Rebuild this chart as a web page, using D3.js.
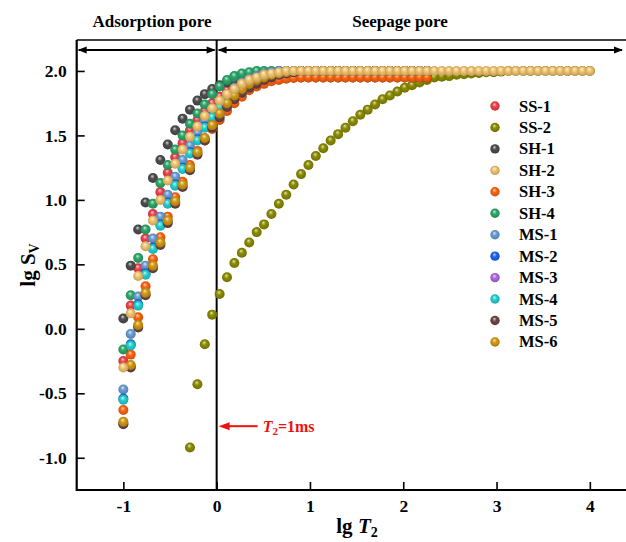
<!DOCTYPE html>
<html>
<head>
<meta charset="utf-8">
<script src="https://cdn.jsdelivr.net/npm/d3@7/dist/d3.min.js"></script>
<style>
  body { margin: 0; background: #fff; }
  svg { display: block; font-family: "Liberation Serif", "Times New Roman", serif; font-weight: bold; }
</style>
</head>
<body>
<script>
// DATA: lg T2 grid (0.1 ms .. 10000 ms, 64 points) and lg Sv per sample
const LG_T2 = [-1.000, -0.921, -0.841, -0.762, -0.683, -0.603, -0.524, -0.444, -0.365, -0.286,
               -0.206, -0.127, -0.048, 0.032, 0.111, 0.190, 0.270, 0.349, 0.429, 0.508,
               0.587, 0.667, 0.746, 0.825, 0.905, 0.984, 1.063, 1.143, 1.222, 1.302,
               1.381, 1.460, 1.540, 1.619, 1.698, 1.778, 1.857, 1.937, 2.016, 2.095,
               2.175, 2.254, 2.333, 2.413, 2.492, 2.571, 2.651, 2.730, 2.810, 2.889,
               2.968, 3.048, 3.127, 3.206, 3.286, 3.365, 3.444, 3.524, 3.603, 3.683,
               3.762, 3.841, 3.921, 4.000];

const SS_1 = [-0.25, 0.18, 0.47, 0.70, 0.89, 1.06, 1.21, 1.33, 1.44, 1.54, 1.62, 1.69, 1.75, 1.80, 1.85, 1.89,
              1.92, 1.95, 1.97, 1.98, 1.99, 2.00, 2.00, 2.00, 2.00, 2.00, 2.00, 2.00, 2.00, 2.00, 2.00, 2.00,
              2.00, 2.00, 2.00, 2.00, 2.00, 2.00, 2.00, 2.00, 2.00, 2.00];
const SS_2 = [null, null, null, null, null, null, null, null, null, -0.92, -0.43, -0.12, 0.11, 0.27, 0.40, 0.51,
              0.59, 0.67, 0.75, 0.81, 0.89, 0.97, 1.04, 1.12, 1.20, 1.27, 1.34, 1.40, 1.46, 1.51, 1.56, 1.61,
              1.66, 1.70, 1.74, 1.78, 1.81, 1.84, 1.87, 1.89, 1.91, 1.93, 1.95, 1.955, 1.96, 1.97, 1.975, 1.98,
              1.985, 1.99, 1.99, 1.995, 2.00, 2.00, 2.00, 2.00, 2.00, 2.00, 2.00, 2.00, 2.00, 2.00, 2.00, 2.00];
const SH_1 = [0.08, 0.49, 0.77, 0.98, 1.17, 1.31, 1.43, 1.54, 1.63, 1.70, 1.77, 1.82, 1.86, 1.89, 1.91, 1.92,
              1.93, 1.94, 1.94, 1.95, 1.95, 1.95, 1.95, 1.95, 1.95, 1.95, 1.95, 1.95, 1.95, 1.95, 1.95, 1.95,
              1.95, 1.95, 1.95, 1.95, 1.95, 1.95, 1.95, 1.95, 1.95, 1.95];
const SH_2 = [-0.30, 0.12, 0.41, 0.64, 0.84, 1.00, 1.15, 1.28, 1.39, 1.49, 1.57, 1.65, 1.71, 1.77, 1.82, 1.86,
              1.90, 1.93, 1.95, 1.97, 1.98, 1.99, 2.00, 2.00, 2.00, 2.00, 2.00, 2.00, 2.00, 2.00, 2.00, 2.00,
              2.00, 2.00, 2.00, 2.00, 2.00, 2.00, 2.00, 2.00, 2.00, 2.00, 2.00, 2.00, 2.00, 2.00, 2.00, 2.00,
              2.00, 2.00, 2.00, 2.00, 2.00, 2.00, 2.00, 2.00, 2.00, 2.00, 2.00, 2.00, 2.00, 2.00, 2.00, 2.00];
const SH_3 = [-0.63, -0.20, 0.09, 0.33, 0.54, 0.71, 0.87, 1.02, 1.14, 1.27, 1.38, 1.46, 1.55, 1.62, 1.69, 1.75,
              1.80, 1.85, 1.88, 1.90, 1.92, 1.93, 1.94, 1.945, 1.95, 1.95, 1.95, 1.95, 1.95, 1.95, 1.95, 1.95,
              1.95, 1.95, 1.95, 1.95, 1.95, 1.95, 1.95, 1.95, 1.95, 1.95];
const SH_4 = [-0.16, 0.26, 0.55, 0.77, 0.97, 1.13, 1.27, 1.39, 1.50, 1.59, 1.67, 1.74, 1.82, 1.88, 1.93, 1.96,
              1.98, 1.99, 2.00, 2.00, 2.00, 2.00, 2.00, 2.00, 2.00, 2.00, 2.00, 2.00, 2.00, 2.00, 2.00, 2.00,
              2.00, 2.00, 2.00, 2.00, 2.00, 2.00, 2.00, 2.00, 2.00, 2.00];
const MS_1 = [-0.47, -0.04, 0.25, 0.49, 0.70, 0.87, 1.04, 1.18, 1.31, 1.42, 1.52, 1.61, 1.69, 1.76, 1.82, 1.87,
              1.91, 1.94, 1.96, 1.98, 1.99, 2.00, 2.00, 2.00, 2.00, 2.00, 2.00, 2.00, 2.00, 2.00, 2.00, 2.00,
              2.00, 2.00, 2.00, 2.00, 2.00, 2.00, 2.00, 2.00, 2.00, 2.00];
const MS_2 = [-0.54, -0.12, 0.19, 0.43, 0.63, 0.81, 0.98, 1.12, 1.25, 1.37, 1.47, 1.57, 1.65, 1.73, 1.80, 1.85,
              1.89, 1.92, 1.95, 1.96, 1.97, 1.98, 1.99, 2.00, 2.00, 2.00, 2.00, 2.00, 2.00, 2.00, 2.00, 2.00,
              2.00, 2.00, 2.00, 2.00, 2.00, 2.00, 2.00, 2.00, 2.00, 2.00];
const MS_3 = [-0.73, -0.29, 0.02, 0.27, 0.48, 0.66, 0.83, 0.98, 1.11, 1.24, 1.36, 1.47, 1.57, 1.66, 1.74, 1.80,
              1.85, 1.89, 1.92, 1.94, 1.96, 1.97, 1.98, 1.99, 2.00, 2.00, 2.00, 2.00, 2.00, 2.00, 2.00, 2.00,
              2.00, 2.00, 2.00, 2.00, 2.00, 2.00, 2.00, 2.00, 2.00, 2.00];
const MS_4 = [-0.55, -0.13, 0.18, 0.42, 0.62, 0.80, 0.97, 1.11, 1.24, 1.36, 1.46, 1.56, 1.64, 1.72, 1.79, 1.84,
              1.88, 1.92, 1.94, 1.96, 1.97, 1.98, 1.99, 2.00, 2.00, 2.00, 2.00, 2.00, 2.00, 2.00, 2.00, 2.00,
              2.00, 2.00, 2.00, 2.00, 2.00, 2.00, 2.00, 2.00, 2.00, 2.00];
const MS_5 = [-0.74, -0.30, 0.01, 0.26, 0.47, 0.65, 0.82, 0.97, 1.10, 1.23, 1.35, 1.46, 1.56, 1.64, 1.72, 1.78,
              1.83, 1.87, 1.90, 1.93, 1.95, 1.97, 1.98, 1.99, 2.00, 2.00, 2.00, 2.00, 2.00, 2.00, 2.00, 2.00,
              2.00, 2.00, 2.00, 2.00, 2.00, 2.00, 2.00, 2.00, 2.00, 2.00];
const MS_6 = [-0.72, -0.28, 0.03, 0.28, 0.49, 0.67, 0.84, 0.99, 1.12, 1.25, 1.37, 1.48, 1.58, 1.67, 1.75, 1.81,
              1.86, 1.90, 1.93, 1.95, 1.97, 1.98, 1.99, 2.00, 2.00, 2.00, 2.00, 2.00, 2.00, 2.00, 2.00, 2.00,
              2.00, 2.00, 2.00, 2.00, 2.00, 2.00, 2.00, 2.00, 2.00, 2.00];

const SAMPLES = ["SS-1", "SS-2", "SH-1", "SH-2", "SH-3", "SH-4", "MS-1", "MS-2", "MS-3", "MS-4", "MS-5", "MS-6"];
const VALUES = [SS_1, SS_2, SH_1, SH_2, SH_3, SH_4, MS_1, MS_2, MS_3, MS_4, MS_5, MS_6];
const COLORS = ["#f0404a", "#8c8c00", "#4e4e4e", "#f2c46e", "#ff6410", "#2ea86a",
                "#6a9ed6", "#1e64f0", "#b06ae0", "#22d2d2", "#6e4646", "#d49a12"];
// SH-2 sits on top of the others in the reference
const DRAW_ORDER = [0, 1, 2, 4, 5, 6, 7, 8, 9, 10, 11, 3];

const X_TICKS = [-1, 0, 1, 2, 3, 4];
const Y_TICKS = [-1.0, -0.5, 0.0, 0.5, 1.0, 1.5, 2.0];

// GLOBAL CONSTANTS
const FRAME_WIDTH = 626;
const FRAME_HEIGHT = 542;
const PLOT = {left: 76.7, right: 636.5, top: 40, bottom: 490};
const R = 5;

const X_SCALE = d3.scaleLinear().domain([-1.5, 4.5]).range([PLOT.left, PLOT.right]);
const Y_SCALE = d3.scaleLinear().domain([-1.25, 2.24]).range([PLOT.bottom, PLOT.top]);

const svg = d3.select("body").append("svg")
    .attr("width", FRAME_WIDTH)
    .attr("height", FRAME_HEIGHT);

// sphere-like gradients
const defs = svg.append("defs");
COLORS.forEach((c, i) => {
  const g = defs.append("radialGradient")
      .attr("id", "ball" + i)
      .attr("cx", "50%").attr("cy", "50%").attr("r", "55%")
      .attr("fx", "42%").attr("fy", "30%");
  g.append("stop").attr("offset", "0%").attr("stop-color", d3.interpolateRgb(c, "#fff")(0.75));
  g.append("stop").attr("offset", "40%").attr("stop-color", c);
  g.append("stop").attr("offset", "100%").attr("stop-color", d3.color(c).darker(0.7));
});

// AXES
const xAxis = svg.append("g")
    .attr("transform", "translate(0," + PLOT.bottom + ")")
    .call(d3.axisBottom(X_SCALE).tickValues(X_TICKS).tickSize(-8).tickPadding(10)
          .tickFormat(d => String(d)));
const yAxis = svg.append("g")
    .attr("transform", "translate(" + PLOT.left + ",0)")
    .call(d3.axisLeft(Y_SCALE).tickValues(Y_TICKS).tickSize(-8).tickPadding(10)
          .tickFormat(d => d.toFixed(1)));
[xAxis, yAxis].forEach(a => {
  a.select(".domain").remove();
  a.selectAll(".tick line").attr("stroke", "#000").attr("stroke-width", 1.6);
  a.selectAll(".tick text").attr("fill", "#000")
      .attr("font-family", "Liberation Serif, serif").attr("font-weight", "bold").attr("font-size", "17.5px");
});

// frame + T2 = 1 ms divider
const frame = svg.append("g").attr("stroke", "#000").attr("fill", "none");
frame.append("line").attr("x1", PLOT.left).attr("x2", FRAME_WIDTH).attr("y1", PLOT.bottom).attr("y2", PLOT.bottom).attr("stroke-width", 2.2);
frame.append("line").attr("x1", PLOT.left).attr("x2", PLOT.left).attr("y1", PLOT.top).attr("y2", PLOT.bottom + 1).attr("stroke-width", 2.2);
frame.append("line").attr("x1", PLOT.left).attr("x2", FRAME_WIDTH).attr("y1", PLOT.top).attr("y2", PLOT.top).attr("stroke-width", 1.6);
frame.append("line").attr("x1", X_SCALE(0)).attr("x2", X_SCALE(0)).attr("y1", PLOT.top).attr("y2", PLOT.bottom).attr("stroke-width", 2);

// double arrows for pore ranges
function arrowHead(x, y, dir, fill) {
  svg.append("path")
    .attr("d", "M" + x + "," + y + "l" + (-dir * 9) + ",-3.6l0,7.2z")
    .attr("fill", fill);
}
function doubleArrow(x1, x2, y) {
  svg.append("line").attr("x1", x1 + 2).attr("x2", x2 - 2).attr("y1", y).attr("y2", y)
     .attr("stroke", "#000").attr("stroke-width", 1.8);
  arrowHead(x1 + 1, y, -1, "#000");
  arrowHead(x2 - 1, y, 1, "#000");
}
const ARROW_Y = 50;
doubleArrow(PLOT.left, X_SCALE(0), ARROW_Y);
doubleArrow(X_SCALE(0), 624, ARROW_Y);

svg.append("text").attr("x", 152).attr("y", 27).attr("text-anchor", "middle")
   .attr("font-size", "17px").text("Adsorption pore");
svg.append("text").attr("x", 400).attr("y", 27).attr("text-anchor", "middle")
   .attr("font-size", "17px").text("Seepage pore");

// POINTS
const clip = defs.append("clipPath").attr("id", "clip").append("rect")
    .attr("x", PLOT.left).attr("y", PLOT.top).attr("width", FRAME_WIDTH - PLOT.left).attr("height", PLOT.bottom - PLOT.top);

const points = svg.append("g").attr("clip-path", "url(#clip)");
DRAW_ORDER.forEach(i => {
  const pts = VALUES[i].map((v, k) => ({x: LG_T2[k], y: v})).filter(d => d.y !== null);
  points.append("g").selectAll("circle")
    .data(pts)
    .enter()
    .append("circle")
      .attr("cx", d => X_SCALE(d.x))
      .attr("cy", d => Y_SCALE(d.y))
      .attr("r", R)
      .attr("fill", "url(#ball" + i + ")");
});

// LEGEND
const legend = svg.append("g").attr("transform", "translate(495,106)");
SAMPLES.forEach((s, i) => {
  const row = legend.append("g").attr("transform", "translate(0," + (i * 21.45) + ")");
  row.append("circle").attr("r", 4.7).attr("fill", "url(#ball" + i + ")");
  row.append("text").attr("x", 24).attr("y", 5.5).attr("font-size", "16.5px").text(s);
});

// T2 = 1 ms annotation
const ANNOT_Y = Y_SCALE(-0.755);
svg.append("line").attr("x1", X_SCALE(0) + 10).attr("x2", X_SCALE(0) + 41)
   .attr("y1", ANNOT_Y).attr("y2", ANNOT_Y).attr("stroke", "#f01010").attr("stroke-width", 2);
svg.append("path")
   .attr("d", "M" + (X_SCALE(0) + 2) + "," + ANNOT_Y + "l11,-4l0,8z").attr("fill", "#f01010");
const ann = svg.append("text").attr("x", X_SCALE(0) + 46).attr("y", ANNOT_Y + 6)
   .attr("fill", "#f01010").attr("font-size", "16px");
ann.append("tspan").attr("font-style", "italic").text("T");
ann.append("tspan").attr("font-size", "11px").attr("dy", 3).text("2");
ann.append("tspan").attr("dy", -3).text("=1ms");

// AXIS TITLES
const xt = svg.append("text").attr("x", 357).attr("y", 533).attr("text-anchor", "middle").attr("font-size", "21px");
xt.append("tspan").text("lg ");
xt.append("tspan").attr("font-style", "italic").text("T");
xt.append("tspan").attr("font-size", "14px").attr("dy", 4).text("2");

const yt = svg.append("text").attr("transform", "translate(35,265) rotate(-90)")
   .attr("text-anchor", "middle").attr("font-size", "21px");
yt.append("tspan").text("lg S");
yt.append("tspan").attr("font-size", "14px").attr("dy", 4).text("V");
</script>
</body>
</html>
